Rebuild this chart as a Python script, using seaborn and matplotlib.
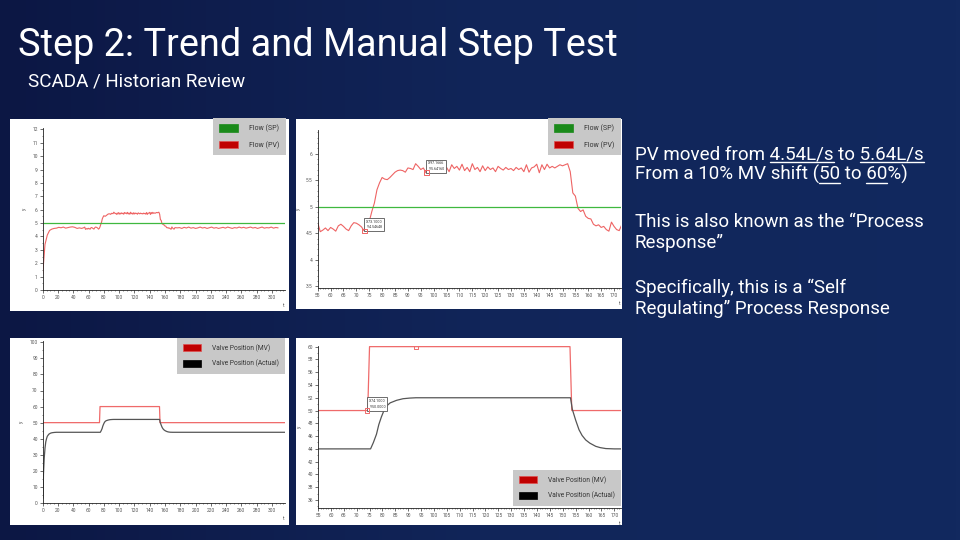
import numpy as np
import matplotlib
matplotlib.use("Agg")
import matplotlib.pyplot as plt
import seaborn as sns
from matplotlib.patches import Patch
from matplotlib.lines import Line2D
from matplotlib.colors import LinearSegmentedColormap
from matplotlib.ticker import MultipleLocator, FuncFormatter

sns.set_theme(style="white")
plt.rcParams['font.family'] = ['Roboto', 'DejaVu Sans']

# ---- data ----
# flow PV, coarse at the start of the run
pv_head = [1.2, 3.4, 4.1, 4.45, 4.55, 4.6, 4.62, 4.68, 4.65, 4.7,
           4.62, 4.66, 4.7, 4.72, 4.68, 4.6, 4.64, 4.6, 4.66]          # t = 0..54 step 3
# flow PV, zoomed window around the step (t = 55..173)
pv_zoom = [4.70, 4.53, 4.56, 4.60, 4.55, 4.61, 4.58, 4.54, 4.64, 4.67,
           4.63, 4.58, 4.55, 4.64, 4.70, 4.69, 4.66, 4.62, 4.546, 4.60,
           4.72, 4.91, 5.07, 5.32, 5.45, 5.55, 5.52, 5.51, 5.55, 5.60,
           5.65, 5.68, 5.69, 5.68, 5.65, 5.73, 5.72, 5.70, 5.81, 5.76,
           5.70, 5.73, 5.64, 5.73, 5.78, 5.66, 5.75, 5.68, 5.76, 5.70,
           5.74, 5.66, 5.79, 5.72, 5.76, 5.69, 5.80, 5.68, 5.74, 5.66,
           5.81, 5.70, 5.74, 5.66, 5.77, 5.68, 5.75, 5.70, 5.73, 5.66,
           5.76, 5.72, 5.69, 5.74, 5.70, 5.72, 5.68, 5.74, 5.70, 5.73,
           5.66, 5.79, 5.65, 5.73, 5.75, 5.80, 5.64, 5.79, 5.70, 5.80,
           5.73, 5.76, 5.73, 5.76, 5.79, 5.77, 5.79, 5.81, 5.66, 5.26,
           5.20, 4.97, 4.91, 4.94, 4.82, 4.78, 4.77, 4.67, 4.64, 4.66,
           4.61, 4.63, 4.57, 4.54, 4.71, 4.63, 4.57, 4.55, 4.66]
# flow PV, coarse tail of the run
pv_tail = [4.64, 4.66, 4.60, 4.68, 4.63, 4.70, 4.62, 4.66, 4.60, 4.64,
           4.70, 4.63, 4.67, 4.60, 4.65, 4.70, 4.62, 4.66, 4.60, 4.64,
           4.68, 4.62, 4.70, 4.65, 4.60, 4.66, 4.63, 4.70, 4.64, 4.68,
           4.62, 4.66, 4.70, 4.63, 4.67, 4.60, 4.65, 4.70, 4.62, 4.66,
           4.64, 4.70, 4.62, 4.67, 4.64]                                  # t = 176..308 step 3
sp_level = 5.0

mv_t = [0, 74.3, 75.0, 152.8, 153.5, 317]
mv_v = [50, 50, 60, 60, 50, 50]

act_t = [0.5, 1, 2, 3, 4, 5, 6, 8, 10, 12, 15, 18, 22, 30, 75.4, 76.5, 77.7, 78.6,
         79.6, 80.6, 81.6, 83, 85.5, 88, 90.6, 93, 153, 153.7, 155, 156.3, 157.5,
         158.9, 160.5, 162.8, 164.5, 166.7, 170, 317]
act_v = [3, 18, 28, 34, 38, 40, 41.5, 42.8, 43.4, 43.7, 43.9, 44, 44, 44, 44, 45, 46.3,
         47.8, 49, 50, 50.7, 51.2, 51.6, 51.85, 51.95, 52, 52, 50.2, 48.5, 47, 46.1,
         45.4, 44.9, 44.4, 44.2, 44.05, 44, 44]

pv_mark_t = [73.1, 97.1666]
pv_mark_v = [4.54648, 5.64160]
mv_mark_t = [74.1, 93.0]
mv_mark_v = [50.0, 60.0]

pv_t = np.concatenate([np.arange(0, 55, 3), np.arange(55, 174), np.arange(176, 309, 3)])
pv_v = np.array(pv_head + pv_zoom + pv_tail)

# colours
c_pv = '#ee6464'
c_sp = '#3fb83f'
c_mv = '#ef6a6a'
c_act = '#555555'

W, H = 960, 540
fig = plt.figure(figsize=(9.6, 5.4), dpi=100)


def rect(x0, y0, x1, y1):
    return [x0 / W, 1 - y1 / H, (x1 - x0) / W, (y1 - y0) / H]


# background
bg = fig.add_axes([0, 0, 1, 1], zorder=-2)
grad = np.linspace(0, 1, 256).reshape(1, -1)
bg.imshow(grad, aspect='auto', extent=[0, 1, 0, 1],
          cmap=LinearSegmentedColormap.from_list('navy', ['#0c1744', '#112559', '#12295f']))
bg.axis('off')

# white screenshot panels
for r in [(10, 119, 289, 311), (296, 119, 622, 309), (10, 338, 289, 525), (296, 338, 622, 525)]:
    p = fig.add_axes(rect(*r), zorder=-1)
    p.set_facecolor('white')
    p.set_xticks([])
    p.set_yticks([])
    for s in p.spines.values():
        s.set_visible(False)


def style(ax, xlim, ylim, xmaj, xmin, ymaj, ymin):
    ax.set_facecolor('none')
    ax.set_xlim(*xlim)
    ax.set_ylim(*ylim)
    for s in ['top', 'right']:
        ax.spines[s].set_visible(False)
    for s in ['left', 'bottom']:
        ax.spines[s].set_color('#222222')
        ax.spines[s].set_linewidth(0.6)
    ax.xaxis.set_major_locator(MultipleLocator(xmaj))
    ax.xaxis.set_minor_locator(MultipleLocator(xmin))
    ax.yaxis.set_major_locator(MultipleLocator(ymaj))
    ax.yaxis.set_minor_locator(MultipleLocator(ymin))
    ax.yaxis.set_major_formatter(FuncFormatter(lambda v, _: '%g' % v))
    ax.tick_params(which='major', labelsize=3.5, labelcolor='#555555', color='#333333',
                   length=2, width=0.5, pad=1.5, left=True, bottom=True)
    ax.tick_params(which='minor', length=1, width=0.4, color='#333333', left=True, bottom=True)
    ax.set_xlabel('t', fontsize=3.5, color='#555555', loc='right', labelpad=2)
    ax.set_ylabel('y', fontsize=3.5, color='#555555', labelpad=4)


def legend(ax, items, x1, y0, fs=5):
    handles = [Patch(facecolor=c, edgecolor=e, linewidth=0.5) for c, e, _ in items]
    lg = ax.legend(handles, [t for _, _, t in items], loc='upper right',
                   bbox_to_anchor=(x1 / W, 1 - y0 / H), bbox_transform=fig.transFigure,
                   borderaxespad=0, fontsize=fs, frameon=True, fancybox=False,
                   handlelength=2.8, handleheight=1.3, labelspacing=1.2,
                   borderpad=0.9, handletextpad=1.6, labelcolor='#333333')
    fr = lg.get_frame()
    fr.set_facecolor('#c8c8c8')
    fr.set_edgecolor('none')
    fr.set_alpha(1)
    lg.set_zorder(5)


def tooltip(ax, x, y, text):
    ax.annotate(text, (x, y), xytext=(1.5, 1.5), textcoords='offset pixels',
                ha='left', va='bottom', fontsize=2.6, color='#333333', linespacing=1.6,
                bbox=dict(boxstyle='square,pad=0.5', facecolor='white', edgecolor='#555555', lw=0.6))


flow_items = [('#1a8a1a', '#1a8a1a', 'Flow (SP)'), ('#c00000', '#e05050', 'Flow (PV)')]
valve_items = [('#c00000', '#e05050', 'Valve Position (MV)'), ('#000000', '#000000', 'Valve Position (Actual)')]

# ---- top-left: full flow trend ----
ax1 = fig.add_axes(rect(42.7, 128, 285, 290))
sns.lineplot(x=pv_t, y=pv_v, ax=ax1, color=c_pv, lw=0.8)
ax1.axhline(sp_level, color=c_sp, lw=0.9)
style(ax1, (0, 317), (0, 12.1), 20, 5, 1, 0.5)
legend(ax1, flow_items, 286, 118)

# ---- top-right: zoomed flow trend ----
ax2 = fig.add_axes(rect(317.7, 129.7, 621, 288))
sns.lineplot(x=pv_t, y=pv_v, ax=ax2, color=c_pv, lw=0.8)
ax2.axhline(sp_level, color=c_sp, lw=0.9)
ax2.scatter(pv_mark_t, pv_mark_v, marker='s', s=10, facecolor='none', edgecolor=c_pv, lw=0.7, zorder=4)
style(ax2, (55, 172.7), (3.47, 6.45), 5, 1, 0.5, 0.1)
tooltip(ax2, pv_mark_t[0], pv_mark_v[0], 'X:73.1000\nY:4.54648')
tooltip(ax2, pv_mark_t[1], pv_mark_v[1], 'X:97.1666\nY:5.64160')
legend(ax2, flow_items, 621, 118)

# ---- bottom-left: full valve trend ----
ax3 = fig.add_axes(rect(42.7, 341, 285, 503))
sns.lineplot(x=mv_t, y=mv_v, ax=ax3, color=c_mv, lw=0.9)
sns.lineplot(x=act_t, y=act_v, ax=ax3, color=c_act, lw=0.9)
style(ax3, (0, 317), (0, 100.8), 20, 5, 10, 5)
legend(ax3, valve_items, 285, 338, fs=4.8)

# ---- bottom-right: zoomed valve trend ----
ax4 = fig.add_axes(rect(318, 346, 621, 508))
sns.lineplot(x=mv_t, y=mv_v, ax=ax4, color=c_mv, lw=0.9)
sns.lineplot(x=act_t, y=act_v, ax=ax4, color=c_act, lw=0.9)
ax4.scatter(mv_mark_t, mv_mark_v, marker='s', s=10, facecolor='none', edgecolor=c_mv, lw=0.7, zorder=4)
style(ax4, (55, 172.6), (34.75, 60.1), 5, 1, 2, 1)
tooltip(ax4, mv_mark_t[0], mv_mark_v[0], 'X:74.1000\nY:50.0000')
legend(ax4, valve_items, 621, 470, fs=4.8)

# ---- slide text ----
fig.text(18 / W, 1 - 56 / H, 'Step 2: Trend and Manual Step Test', color='white',
         fontsize=27.3, va='baseline', ha='left')
fig.text(28 / W, 1 - 86 / H, 'SCADA / Historian Review', color='white',
         fontsize=13.6, va='baseline', ha='left')

renderer = fig.canvas.get_renderer()
text_kw = dict(color='white', fontsize=13.5, va='baseline', ha='left')


def measure(s):
    t = fig.text(0, 0.5, s, **text_kw)
    w = t.get_window_extent(renderer).width
    t.remove()
    return w


body = [
    (159, [('PV moved from ', False), ('4.54L/s', True), (' to ', False), ('5.64L/s', True)]),
    (180, [('From a 10% MV shift (', False), ('50', True), (' to ', False), ('60', True), ('%)', False)]),
    (227, [('This is also known as the \u201cProcess', False)]),
    (248, [('Response\u201d', False)]),
    (293, [('Specifically, this is a \u201cSelf', False)]),
    (314, [('Regulating\u201d Process Response', False)]),
]
x_left = 635
for yb, parts in body:
    full = ''.join(p for p, _ in parts)
    t = fig.text(x_left / W, 1 - yb / H, full, **text_kw)
    x0 = t.get_window_extent(renderer).x0
    pre = ''
    for p, ul in parts:
        if ul:
            w_end = measure(pre + p)
            w_seg = measure(p)
            xs, xe = x0 + w_end - w_seg, x0 + w_end
            yl = 1 - (yb + 2.5) / H
            fig.add_artist(Line2D([xs / W, xe / W], [yl, yl], transform=fig.transFigure,
                                  color='white', lw=1.0))
        pre += p

fig.savefig('out.png', dpi=100)
